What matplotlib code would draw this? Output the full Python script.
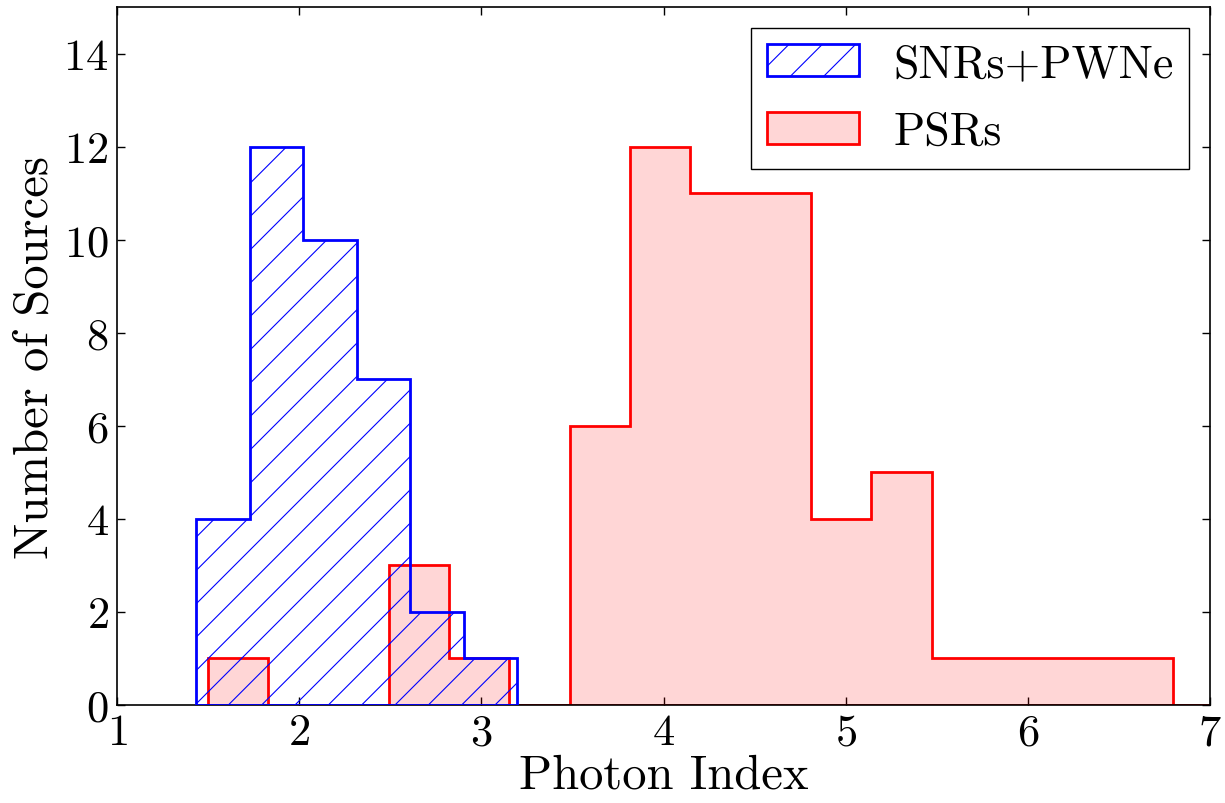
import matplotlib
matplotlib.use("Agg")
import matplotlib.pyplot as plt
import numpy as np
from matplotlib.patches import Patch

# Data
snr_edges = [1.434, 1.728, 2.022, 2.316, 2.610, 2.904, 3.198]
snr_counts = [4, 12, 10, 7, 2, 1]

psr_start = 1.499
psr_width = 0.3310
psr_counts = [1, 0, 0, 3, 1, 0, 6, 12, 11, 11, 4, 5, 1, 1, 1, 1, 0, 0]

xticks = [1, 2, 3, 4, 5, 6, 7]
yticks = [0, 2, 4, 6, 8, 10, 12, 14]

plt.rcParams['font.family'] = ['cmr10', 'DejaVu Serif']
plt.rcParams['mathtext.fontset'] = 'cm'
plt.rcParams['axes.formatter.use_mathtext'] = True
plt.rcParams['axes.unicode_minus'] = False
plt.rcParams['hatch.linewidth'] = 0.8

fig = plt.figure(figsize=(12.25, 8.04), dpi=100)
ax = fig.add_axes([0.0955, 0.1219, 0.8923, 0.8681])

psr_edges = psr_start + psr_width * np.arange(len(psr_counts) + 1)

ax.hist(psr_edges[:-1], bins=psr_edges, weights=psr_counts, histtype='stepfilled',
        facecolor=(1, 0, 0, 0.16), edgecolor='red', linewidth=2, zorder=2)
ax.hist(np.array(snr_edges[:-1]), bins=snr_edges, weights=snr_counts, histtype='stepfilled',
        fill=False, edgecolor='blue', hatch='/', linewidth=2, zorder=3)

h1 = Patch(facecolor='none', edgecolor='blue', hatch='/', linewidth=2, label='SNRs+PWNe')
h2 = Patch(facecolor=(1, 0, 0, 0.16), edgecolor='red', linewidth=2, label='PSRs')
leg = ax.legend(handles=[h1, h2], loc='upper right', fontsize=33, fancybox=False,
                framealpha=1, edgecolor='black', handlelength=2.0, handleheight=0.7,
                borderpad=0.35, labelspacing=0.56, handletextpad=0.75,
                borderaxespad=0.45)
leg.get_frame().set_linewidth(1.0)

ax.set_xlim(1, 7)
ax.set_ylim(0, 15)
ax.set_xticks(xticks)
ax.set_yticks(yticks)
ax.tick_params(direction='in', top=True, right=True, length=6, width=1, labelsize=32, pad=6)
for s in ax.spines.values():
    s.set_linewidth(1.2)

ax.set_xlabel('Photon Index', fontsize=35, labelpad=0)
ax.set_ylabel('Number of Sources', fontsize=35, labelpad=4)

fig.savefig('out.png', dpi=100, facecolor='white')
